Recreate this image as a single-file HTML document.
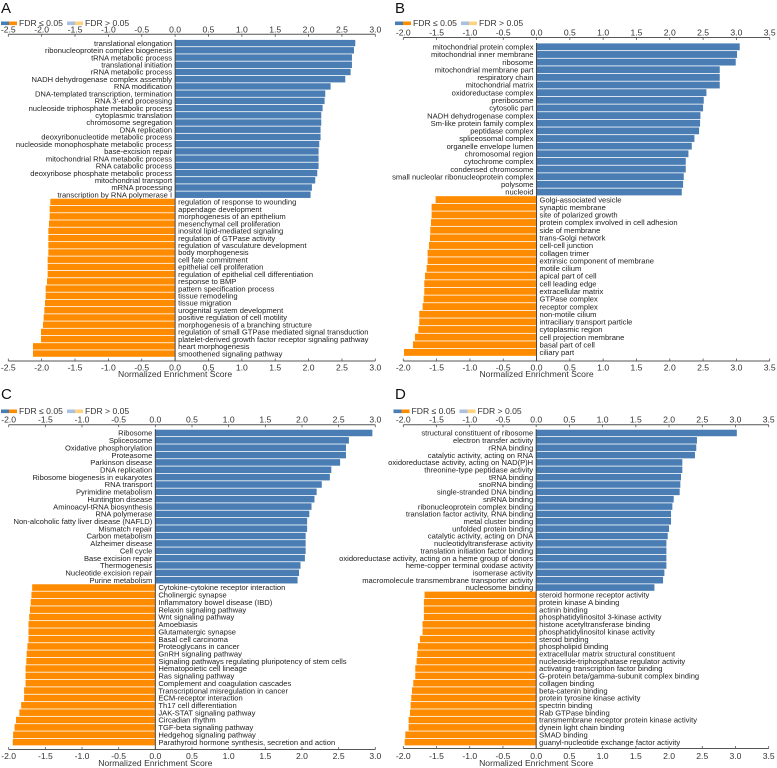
<!DOCTYPE html>
<html><head><meta charset="utf-8"><style>
html,body{margin:0;padding:0;background:#fff;}
svg{display:block;font-family:"Liberation Sans",Arial,sans-serif;}
.tk{font-size:8.6px;fill:#333;}
.lb{font-size:7.6px;fill:#222;}
</style></head><body>
<svg id="chart" width="777" height="768" viewBox="0 0 777 768"></svg>
<script>
// ---- Panel A data ----
const aBlueLabels=["translational elongation","ribonucleoprotein complex biogenesis","tRNA metabolic process","translational initiation","rRNA metabolic process","NADH dehydrogenase complex assembly","RNA modification","DNA-templated transcription, termination","RNA 3'-end processing","nucleoside triphosphate metabolic process","cytoplasmic translation","chromosome segregation","DNA replication","deoxyribonucleotide metabolic process","nucleoside monophosphate metabolic process","base-excision repair","mitochondrial RNA metabolic process","RNA catabolic process","deoxyribose phosphate metabolic process","mitochondrial transport","mRNA processing","transcription by RNA polymerase I"];
const aBlueValues=[2.70,2.68,2.65,2.65,2.63,2.55,2.33,2.25,2.24,2.21,2.19,2.19,2.18,2.18,2.16,2.15,2.15,2.15,2.13,2.10,2.05,2.03];
const aOrangeLabels=["regulation of response to wounding","appendage development","morphogenesis of an epithelium","mesenchymal cell proliferation","inositol lipid-mediated signaling","regulation of GTPase activity","regulation of vasculature development","body morphogenesis","cell fate commitment","epithelial cell proliferation","regulation of epithelial cell differentiation","response to BMP","pattern specification process","tissue remodeling","tissue migration","urogenital system development","positive regulation of cell motility","morphogenesis of a branching structure","regulation of small GTPase mediated signal transduction","platelet-derived growth factor receptor signaling pathway","heart morphogenesis","smoothened signaling pathway"];
const aOrangeValues=[-1.87,-1.88,-1.88,-1.89,-1.90,-1.90,-1.90,-1.90,-1.91,-1.91,-1.91,-1.92,-1.94,-1.94,-1.95,-1.96,-1.97,-1.98,-2.01,-2.01,-2.13,-2.13];
const aTicks=[-2.5,-2.0,-1.5,-1.0,-0.5,0.0,0.5,1.0,1.5,2.0,2.5,3.0];
// ---- Panel B data ----
const bBlueLabels=["mitochondrial protein complex","mitochondrial inner membrane","ribosome","mitochondrial membrane part","respiratory chain","mitochondrial matrix","oxidoreductase complex","preribosome","cytosolic part","NADH dehydrogenase complex","Sm-like protein family complex","peptidase complex","spliceosomal complex","organelle envelope lumen","chromosomal region","cytochrome complex","condensed chromosome","small nucleolar ribonucleoprotein complex","polysome","nucleoid"];
const bBlueValues=[3.05,3.01,2.99,2.75,2.75,2.75,2.55,2.51,2.50,2.46,2.455,2.44,2.37,2.33,2.28,2.24,2.24,2.21,2.20,2.18];
const bOrangeLabels=["Golgi-associated vesicle","synaptic membrane","site of polarized growth","protein complex involved in cell adhesion","side of membrane","trans-Golgi network","cell-cell junction","collagen trimer","extrinsic component of membrane","motile cilium","apical part of cell","cell leading edge","extracellular matrix","GTPase complex","receptor complex","non-motile cilium","intraciliary transport particle","cytoplasmic region","cell projection membrane","basal part of cell","ciliary part"];
const bOrangeValues=[-1.515,-1.575,-1.575,-1.585,-1.595,-1.60,-1.615,-1.635,-1.635,-1.65,-1.675,-1.685,-1.685,-1.695,-1.71,-1.76,-1.76,-1.775,-1.825,-1.855,-1.99];
const bTicks=[-2.0,-1.5,-1.0,-0.5,0.0,0.5,1.0,1.5,2.0,2.5,3.0,3.5];
// ---- Panel C data ----
const cBlueLabels=["Ribosome","Spliceosome","Oxidative phosphorylation","Proteasome","Parkinson disease","DNA replication","Ribosome biogenesis in eukaryotes","RNA transport","Pyrimidine metabolism","Huntington disease","Aminoacyl-tRNA biosynthesis","RNA polymerase","Non-alcoholic fatty liver disease (NAFLD)","Mismatch repair","Carbon metabolism","Alzheimer disease","Cell cycle","Base excision repair","Thermogenesis","Nucleotide excision repair","Purine metabolism"];
const cBlueValues=[2.96,2.64,2.60,2.60,2.52,2.40,2.38,2.27,2.20,2.17,2.13,2.10,2.07,2.07,2.05,2.05,2.05,2.04,1.98,1.96,1.94];
const cOrangeLabels=["Cytokine-cytokine receptor interaction","Cholinergic synapse","Inflammatory bowel disease (IBD)","Relaxin signaling pathway","Wnt signaling pathway","Amoebiasis","Glutamatergic synapse","Basal cell carcinoma","Proteoglycans in cancer","GnRH signaling pathway","Signaling pathways regulating pluripotency of stem cells","Hematopoietic cell lineage","Ras signaling pathway","Complement and coagulation cascades","Transcriptional misregulation in cancer","ECM-receptor interaction","Th17 cell differentiation","JAK-STAT signaling pathway","Circadian rhythm","TGF-beta signaling pathway","Hedgehog signaling pathway","Parathyroid hormone synthesis, secretion and action"];
const cOrangeValues=[-1.68,-1.69,-1.70,-1.71,-1.72,-1.73,-1.73,-1.73,-1.745,-1.755,-1.76,-1.77,-1.77,-1.77,-1.79,-1.79,-1.83,-1.855,-1.90,-1.92,-1.94,-1.945];
const cTicks=[-2.0,-1.5,-1.0,-0.5,0.0,0.5,1.0,1.5,2.0,2.5,3.0];
// ---- Panel D data ----
const dBlueLabels=["structural constituent of ribosome","electron transfer activity","rRNA binding","catalytic activity, acting on RNA","oxidoreductase activity, acting on NAD(P)H","threonine-type peptidase activity","tRNA binding","snoRNA binding","single-stranded DNA binding","snRNA binding","ribonucleoprotein complex binding","translation factor activity, RNA binding","metal cluster binding","unfolded protein binding","catalytic activity, acting on DNA","nucleotidyltransferase activity","translation initiation factor binding","oxidoreductase activity, acting on a heme group of donors","heme-copper terminal oxidase activity","isomerase activity","macromolecule transmembrane transporter activity","nucleosome binding"];
const dBlueValues=[3.02,2.42,2.41,2.39,2.20,2.20,2.18,2.17,2.16,2.07,2.05,2.03,2.03,2.00,1.98,1.96,1.96,1.96,1.96,1.93,1.91,1.78];
const dOrangeLabels=["steroid hormone receptor activity","protein kinase A binding","actinin binding","phosphatidylinositol 3-kinase activity","histone acetyltransferase binding","phosphatidylinositol kinase activity","steroid binding","phospholipid binding","extracellular matrix structural constituent","nucleoside-triphosphatase regulator activity","activating transcription factor binding","G-protein beta/gamma-subunit complex binding","collagen binding","beta-catenin binding","protein tyrosine kinase activity","spectrin binding","Rab GTPase binding","transmembrane receptor protein kinase activity","dynein light chain binding","SMAD binding","guanyl-nucleotide exchange factor activity"];
const dOrangeValues=[-1.68,-1.69,-1.69,-1.69,-1.71,-1.71,-1.75,-1.78,-1.79,-1.80,-1.82,-1.82,-1.85,-1.87,-1.88,-1.89,-1.90,-1.92,-1.92,-1.97,-1.98];
const dTicks=[-2.0,-1.5,-1.0,-0.5,0.0,0.5,1.0,1.5,2.0,2.5,3.0,3.5];

const NS='http://www.w3.org/2000/svg';
const svg=document.getElementById('chart');
function mk(tag,attrs,parent,text){const e=document.createElementNS(NS,tag);for(const k in attrs)e.setAttribute(k,attrs[k]);if(text!==undefined)e.textContent=text;(parent||svg).appendChild(e);return e;}

const panels=[
 {id:'a',letter:'A',lx:1,ly:13,legY:21.5,legX:1,xmin:-2.5,xmax:3.0,px0:8.3,px1:375.3,topY:34.3,barsTop:39.5,pitch:7.22,botY:361,botLab:370.5,title:377,bl:aBlueLabels,bv:aBlueValues,ol:aOrangeLabels,ov:aOrangeValues,ticks:aTicks},
 {id:'b',letter:'B',lx:395,ly:13,legY:21.5,legX:395,xmin:-2.0,xmax:3.5,px0:403.3,px1:769.7,topY:37.5,barsTop:43,pitch:7.64,botY:361,botLab:370.5,title:377,bl:bBlueLabels,bv:bBlueValues,ol:bOrangeLabels,ov:bOrangeValues,ticks:bTicks},
 {id:'c',letter:'C',lx:1,ly:399,legY:409.5,legX:1,xmin:-2.0,xmax:3.0,px0:8.7,px1:375.3,topY:424.7,barsTop:429.3,pitch:7.36,botY:749.5,botLab:759,title:766,bl:cBlueLabels,bv:cBlueValues,ol:cOrangeLabels,ov:cOrangeValues,ticks:cTicks},
 {id:'d',letter:'D',lx:395,ly:399,legY:409.5,legX:393.5,xmin:-2.0,xmax:3.5,px0:403.3,px1:768.7,topY:424.7,barsTop:429.3,pitch:7.36,botY:748.5,botLab:759,title:766,bl:dBlueLabels,bv:dBlueValues,ol:dOrangeLabels,ov:dOrangeValues,ticks:dTicks}
];

panels.forEach(p=>{
 const g=mk('g',{});
 
 
 const xs=v=>p.px0+(v-p.xmin)/(p.xmax-p.xmin)*(p.px1-p.px0);
 const x0=xs(0);
 const letter=mk('text',{x:p.lx,y:p.ly,'font-size':'15px',fill:'#111'},g,p.letter);
 
 
 const lg=mk('g',{},g);
 
 
 const L=p.legX;
 mk('rect',{x:L,y:p.legY,width:8,height:3.6,fill:'#4a7db3'},lg);
 mk('rect',{x:L+8,y:p.legY,width:8,height:3.6,fill:'#ff8c00'},lg);
 mk('text',{x:L+18,y:p.legY+4.3,class:'tk'},lg,'FDR ≤ 0.05');
 mk('rect',{x:L+66,y:p.legY,width:8,height:3.6,fill:'#a9c1de'},lg);
 mk('rect',{x:L+74,y:p.legY,width:8,height:3.6,fill:'#ffd27f'},lg);
 mk('text',{x:L+84,y:p.legY+4.3,class:'tk'},lg,'FDR > 0.05');
 [[p.topY,1],[p.botY,-1]].forEach(([ay,dir],i)=>{
  const ax=mk('g',{},g);
  
  
  mk('line',{x1:p.px0,x2:p.px1,y1:ay,y2:ay,stroke:'#555','stroke-width':1},ax);
  p.ticks.forEach(t=>{
   const x=xs(t);
   mk('line',{x1:x,x2:x,y1:ay,y2:ay+dir*2.5,stroke:'#555','stroke-width':0.8},ax);
   const ly=i===0?ay-2:p.botLab;
   const tx=mk('text',{x:x,y:ly,'text-anchor':'middle',class:'tk'},ax,t.toFixed(1));
   
   
  });
 });
 const tt=mk('text',{x:x0,y:p.title,'text-anchor':'middle',class:'tk'},g,'Normalized Enrichment Score');
 
 
 const labels=p.bl.concat(p.ol), vals=p.bv.concat(p.ov);
 labels.forEach((lab,i)=>{
  const v=vals[i];
  const y=p.barsTop+i*p.pitch;
  const xv=xs(v);
  const r=mk('rect',{x:Math.min(xv,x0),y:y+0.4,width:Math.abs(xv-x0),height:p.pitch-0.8,fill:v>=0?'#4a7db3':'#ff8c00'},g);
  
  
  const t=mk('text',{x:v>=0?x0-3:x0+3,y:y+p.pitch/2+2.7,'text-anchor':v>=0?'end':'start',class:'lb'},g,lab);
  
  
 });
 mk('line',{x1:x0,x2:x0,y1:p.barsTop,y2:p.botY,stroke:'#444','stroke-width':1},g);
});
</script>
</body></html>
